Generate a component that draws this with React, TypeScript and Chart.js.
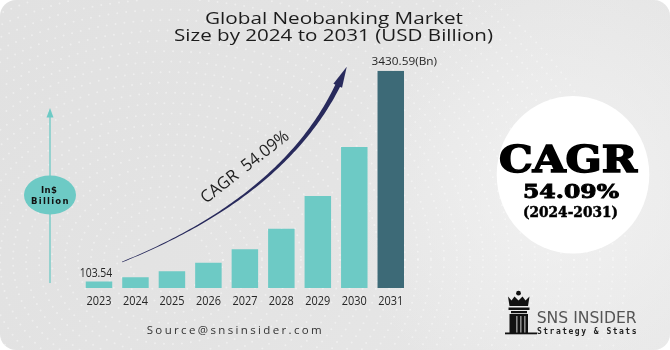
import React, { useEffect, useRef } from "react";
import { Chart, registerables } from "chart.js";

Chart.register(...registerables);

const years = ["2023", "2024", "2025", "2026", "2027", "2028", "2029", "2030", "2031"];
const marketSize = [103.54, 169, 264, 400, 611, 937, 1453, 2227, 3430.59];
const firstValueLabel = "103.54";
const lastValueLabel = "3430.59(Bn)";
const titleLines = ["Global Neobanking Market", "Size by 2024 to 2031 (USD Billion)"];
const arrowText = "CAGR  54.09%";
const badgeLines = ["CAGR", "54.09%", "(2024-2031)"];
const unitLines = ["In$", "Billion"];
const sourceText = "Source@snsinsider.com";
const brandLines = ["SNS INSIDER", "Strategy & Stats"];

const TEAL = "#6dcac5";
const DARK = "#3d6a77";
const NAVY = "#282a5c";

function fitText(
  ctx: CanvasRenderingContext2D,
  text: string,
  cx: number,
  baseline: number,
  font: string,
  color: string,
  width: number,
  strokeW = 0
) {
  ctx.save();
  ctx.font = font;
  ctx.fillStyle = color;
  ctx.strokeStyle = color;
  ctx.textAlign = "left";
  ctx.textBaseline = "alphabetic";
  const w = ctx.measureText(text).width;
  ctx.translate(cx - width / 2, baseline);
  ctx.scale(width / w, 1);
  ctx.fillText(text, 0, 0);
  if (strokeW > 0) {
    ctx.lineWidth = strokeW;
    ctx.lineJoin = "miter";
    ctx.strokeText(text, 0, 0);
  }
  ctx.restore();
}

function spacedText(
  ctx: CanvasRenderingContext2D,
  text: string,
  left: number,
  baseline: number,
  font: string,
  color: string,
  width: number
) {
  ctx.save();
  ctx.font = font;
  ctx.fillStyle = color;
  ctx.textAlign = "left";
  ctx.textBaseline = "alphabetic";
  const chars = text.split("");
  const ws = chars.map((c) => ctx.measureText(c).width);
  const sum = ws.reduce((a, b) => a + b, 0);
  const gap = chars.length > 1 ? (width - sum) / (chars.length - 1) : 0;
  let x = left;
  chars.forEach((c, i) => {
    ctx.fillText(c, x, baseline);
    x += ws[i] + gap;
  });
  ctx.restore();
}

function roundRectPath(ctx: CanvasRenderingContext2D, x: number, y: number, w: number, h: number, r: number) {
  ctx.beginPath();
  ctx.moveTo(x + r, y);
  ctx.lineTo(x + w - r, y);
  ctx.arcTo(x + w, y, x + w, y + r, r);
  ctx.lineTo(x + w, y + h - r);
  ctx.arcTo(x + w, y + h, x + w - r, y + h, r);
  ctx.lineTo(x + r, y + h);
  ctx.arcTo(x, y + h, x, y + h - r, r);
  ctx.lineTo(x, y + r);
  ctx.arcTo(x, y, x + r, y, r);
  ctx.closePath();
}

const backgroundPlugin = {
  id: "bgDecor",
  beforeDraw(chart: any) {
    const ctx: CanvasRenderingContext2D = chart.ctx;
    const W = chart.width;
    const H = chart.height;
    ctx.save();
    ctx.fillStyle = "#ffffff";
    ctx.fillRect(0, 0, W, H);
    roundRectPath(ctx, 0, 0, W, H, 16);
    ctx.clip();
    const g = ctx.createLinearGradient(0, 0, W, H);
    g.addColorStop(0, "#e1e1e1");
    g.addColorStop(0.5, "#e4e4e4");
    g.addColorStop(1, "#e8e8e8");
    ctx.fillStyle = g;
    ctx.fillRect(0, 0, W, H);
    const rg = ctx.createRadialGradient(560, 190, 20, 560, 190, 220);
    rg.addColorStop(0, "rgba(245,245,245,0.7)");
    rg.addColorStop(1, "rgba(245,245,245,0)");
    ctx.fillStyle = rg;
    ctx.fillRect(0, 0, W, H);
    ctx.fillStyle = "rgba(255,255,255,0.4)";
    for (let r = 40; r < 460; r += 13) {
      const step = 9 / r;
      for (let a = 0; a < Math.PI * 2; a += step) {
        const x = 170 + r * Math.cos(a);
        const y = 260 + r * Math.sin(a) * 0.8;
        if (x < 0 || x > W || y < 0 || y > H) continue;
        ctx.beginPath();
        ctx.arc(x, y, 1, 0, Math.PI * 2);
        ctx.fill();
      }
    }
    ctx.restore();
  },
};

const decorPlugin = {
  id: "fgDecor",
  afterDraw(chart: any) {
    const ctx: CanvasRenderingContext2D = chart.ctx;
    const xs = chart.scales.x;
    const meta = chart.getDatasetMeta(0);

    // title
    fitText(ctx, titleLines[0], 334, 24, "500 16px 'Open Sans'", "#1c1c1c", 258);
    fitText(ctx, titleLines[1], 333.5, 40.5, "500 16px 'Open Sans'", "#1c1c1c", 319);

    // year labels
    years.forEach((y, i) => {
      const cx = xs.getPixelForValue(i);
      fitText(ctx, y, cx, 305, "12.5px 'Open Sans'", "#262626", 25);
    });

    // value labels
    const b0 = meta.data[0];
    fitText(ctx, firstValueLabel, b0.x - 3, b0.y - 4, "12px 'Open Sans'", "#262626", 32.5);
    const bl = meta.data[meta.data.length - 1];
    fitText(ctx, lastValueLabel, bl.x + 13.5, bl.y - 5.5, "11.5px 'Open Sans'", "#262626", 65.5);

    // curved CAGR arrow
    const P0 = { x: 122, y: 262 };
    const C = { x: 285, y: 196 };
    const P2 = { x: 339, y: 83 };
    const N = 80;
    const left: { x: number; y: number }[] = [];
    const right: { x: number; y: number }[] = [];
    for (let i = 0; i <= N; i++) {
      const t = i / N;
      const mt = 1 - t;
      const x = mt * mt * P0.x + 2 * mt * t * C.x + t * t * P2.x;
      const y = mt * mt * P0.y + 2 * mt * t * C.y + t * t * P2.y;
      const dx = 2 * mt * (C.x - P0.x) + 2 * t * (P2.x - C.x);
      const dy = 2 * mt * (C.y - P0.y) + 2 * t * (P2.y - C.y);
      const len = Math.hypot(dx, dy);
      const nx = -dy / len;
      const ny = dx / len;
      const w = 0.35 + 2.3 * Math.pow(t, 1.4);
      left.push({ x: x + nx * w, y: y + ny * w });
      right.push({ x: x - nx * w, y: y - ny * w });
    }
    ctx.save();
    ctx.fillStyle = NAVY;
    ctx.beginPath();
    ctx.moveTo(left[0].x, left[0].y);
    left.forEach((p) => ctx.lineTo(p.x, p.y));
    for (let i = right.length - 1; i >= 0; i--) ctx.lineTo(right[i].x, right[i].y);
    ctx.closePath();
    ctx.fill();
    const ex = P2.x - C.x;
    const ey = P2.y - C.y;
    const el = Math.hypot(ex, ey);
    const ux = ex / el;
    const uy = ey / el;
    const tip = { x: P2.x + ux * 18, y: P2.y + uy * 18 };
    const hb = { x: P2.x - ux * 3, y: P2.y - uy * 3 };
    ctx.beginPath();
    ctx.moveTo(tip.x, tip.y);
    ctx.lineTo(hb.x - uy * 4.8, hb.y + ux * 4.8);
    ctx.lineTo(hb.x + uy * 4.8, hb.y - ux * 4.8);
    ctx.closePath();
    ctx.fill();
    ctx.restore();

    // rotated CAGR text
    ctx.save();
    ctx.translate(206, 204);
    ctx.rotate((-38 * Math.PI) / 180);
    ctx.font = "17px 'Open Sans'";
    const aw = ctx.measureText(arrowText).width;
    ctx.scale(107 / aw, 1);
    ctx.fillStyle = "#1e1e1e";
    ctx.textBaseline = "alphabetic";
    ctx.fillText(arrowText, 0, 0);
    ctx.restore();

    // left unit axis
    ctx.save();
    ctx.strokeStyle = TEAL;
    ctx.fillStyle = TEAL;
    ctx.lineWidth = 1.3;
    ctx.beginPath();
    ctx.moveTo(50, 116);
    ctx.lineTo(50, 283);
    ctx.stroke();
    ctx.beginPath();
    ctx.moveTo(50, 108);
    ctx.lineTo(46.5, 117.5);
    ctx.lineTo(53.5, 117.5);
    ctx.closePath();
    ctx.fill();
    ctx.beginPath();
    ctx.ellipse(50, 195, 26, 19.5, 0, 0, Math.PI * 2);
    ctx.fill();
    ctx.restore();
    spacedText(ctx, unitLines[0], 41, 192.5, "bold 8.5px 'DejaVu Sans'", "#111", 16);
    spacedText(ctx, unitLines[1], 31, 203.5, "bold 8.5px 'DejaVu Sans'", "#111", 37.5);

    // CAGR badge
    ctx.save();
    ctx.fillStyle = "#ffffff";
    ctx.beginPath();
    ctx.ellipse(573, 174.7, 76.3, 78.7, 0, 0, Math.PI * 2);
    ctx.fill();
    ctx.restore();
    fitText(ctx, badgeLines[0], 568, 171.7, "bold 37px 'DejaVu Serif'", "#000", 138, 1.6);
    fitText(ctx, badgeLines[1], 571, 198.3, "bold 18.5px 'DejaVu Serif'", "#000", 96, 0.9);
    fitText(ctx, badgeLines[2], 570.5, 216.5, "bold 14px 'DejaVu Serif'", "#000", 95, 0.5);

    // source
    spacedText(ctx, sourceText, 146.7, 334.3, "11.5px 'Open Sans'", "#333", 175);

    // logo icon
    ctx.save();
    ctx.fillStyle = "#111";
    ctx.beginPath();
    ctx.arc(518.5, 293.2, 2.4, 0, Math.PI * 2);
    ctx.fill();
    ctx.beginPath();
    ctx.moveTo(508, 296.5);
    ctx.lineTo(511.5, 300.5);
    ctx.lineTo(514.5, 296.5);
    ctx.lineTo(518.5, 300.5);
    ctx.lineTo(522.5, 296.5);
    ctx.lineTo(525.5, 300.5);
    ctx.lineTo(529.5, 296.5);
    ctx.lineTo(528, 306);
    ctx.lineTo(509.5, 306);
    ctx.closePath();
    ctx.fill();
    ctx.fillRect(508.5, 307.5, 21, 2.5);
    ctx.fillRect(511, 311, 16, 2.2);
    ctx.fillRect(509.5, 314, 18.5, 19.5);
    ctx.fillRect(505, 332.5, 32, 1.8);
    ctx.fillStyle = "#8a8a8a";
    ctx.fillRect(516, 316, 1.6, 16.5);
    ctx.fillRect(520, 316, 1.6, 16.5);
    ctx.fillRect(524, 316, 1.6, 16.5);
    ctx.restore();
    fitText(ctx, brandLines[0], 586.7, 323.3, "15.5px 'DejaVu Sans'", "#555", 100);
    spacedText(ctx, brandLines[1], 537, 334, "bold 8px 'DejaVu Sans Mono'", "#222", 99.5);
  },
};

export default function App() {
  const canvasRef = useRef<HTMLCanvasElement | null>(null);

  useEffect(() => {
    if (!canvasRef.current) return;
    const chart = new Chart(canvasRef.current, {
      type: "bar",
      data: {
        labels: years,
        datasets: [
          {
            data: marketSize,
            backgroundColor: marketSize.map((_, i) => (i === marketSize.length - 1 ? DARK : TEAL)),
            borderWidth: 0,
            barPercentage: 0.726,
            categoryPercentage: 1,
          },
        ],
      },
      options: {
        responsive: false,
        animation: false,
        layout: { padding: { left: 80.75, right: 261, top: 70.7, bottom: 62 } },
        plugins: {
          legend: { display: false },
          tooltip: { enabled: false },
          title: { display: false },
        },
        scales: {
          x: { display: false },
          y: { display: false, min: 0, max: 3430.59 },
        },
      },
      plugins: [backgroundPlugin, decorPlugin],
    });
    return () => chart.destroy();
  }, []);

  return (
    <div style={{ position: "fixed", left: 0, top: 0, width: 670, height: 350 }}>
      <canvas ref={canvasRef} width={670} height={350} style={{ display: "block" }} />
    </div>
  );
}
